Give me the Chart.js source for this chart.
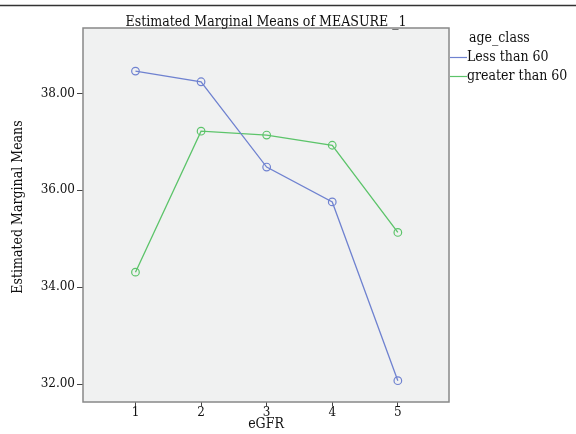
<!DOCTYPE html>
<html><head><meta charset="utf-8">
<script src="https://cdn.jsdelivr.net/npm/chart.js@4"></script>
<style>html,body{margin:0;padding:0;background:#fff}#wrap{width:576px;height:434px;position:relative}</style>
</head><body><div id="wrap"><canvas id="c"></canvas></div>
<script>
const categories = [1, 2, 3, 4, 5];
const seriesNames = ["Less than 60", "greater than 60"];
const lessThan60 = [38.46, 38.24, 36.48, 35.76, 32.07];
const greaterThan60 = [34.31, 37.22, 37.14, 36.93, 35.13];
const yTicks = [32, 34, 36, 38];
const xTicks = [1, 2, 3, 4, 5];
const titleText = "Estimated Marginal Means of MEASURE _1";
const yTitle = "Estimated Marginal Means";
const xTitle = "eGFR";
const legendTitle = "age_class";

const FONT = "'DejaVu Serif Condensed', 'Liberation Serif', serif";
const TFONT = "'DejaVu Serif', serif";
const colors = ["#6f82d0", "#5cc46a"];

const decor = {
  id: 'decor',
  beforeDraw(chart) {
    const {ctx, chartArea: a} = chart;
    ctx.save();
    ctx.fillStyle = '#f0f1f1';
    ctx.fillRect(a.left, a.top, a.right - a.left, a.bottom - a.top);
    ctx.restore();
  },
  afterDraw(chart) {
    const {ctx, chartArea: a} = chart;
    ctx.save();
    ctx.strokeStyle = '#333';
    ctx.lineWidth = 1.5;
    ctx.beginPath(); ctx.moveTo(0, 5.5); ctx.lineTo(576, 5.5); ctx.stroke();
    ctx.strokeStyle = '#888';
    ctx.lineWidth = 1.5;
    ctx.strokeRect(a.left, a.top, a.right - a.left, a.bottom - a.top);
    ctx.fillStyle = '#111';
    ctx.font = "14px " + FONT;
    ctx.textAlign = 'center'; ctx.textBaseline = 'alphabetic';
    ctx.fillText(titleText, (a.left + a.right) / 2, 26);
    ctx.fillText(xTitle, (a.left + a.right) / 2, 428);
    ctx.save();
    ctx.translate(22, (a.top + a.bottom) / 2 - 8);
    ctx.rotate(-Math.PI / 2);
    ctx.fillText(yTitle, 0, 0);
    ctx.restore();
    ctx.textAlign = 'left'; ctx.textBaseline = 'middle';
    ctx.fillText(legendTitle, 469, 38);
    chart.data.datasets.forEach((ds, i) => {
      const y = 57 + i * 19;
      ctx.strokeStyle = ds.borderColor;
      ctx.lineWidth = 1.2;
      ctx.beginPath(); ctx.moveTo(450, y + 0.5); ctx.lineTo(467, y + 0.5); ctx.stroke();
      ctx.fillText(ds.label, 467, y);
    });
    ctx.restore();
  }
};

new Chart(document.getElementById('c'), {
  type: 'line',
  data: {
    datasets: [
      { label: seriesNames[0], data: categories.map((x, i) => ({x, y: lessThan60[i]})), borderColor: colors[0], backgroundColor: 'rgba(0,0,0,0)', borderWidth: 1.3, pointRadius: 3.8, pointBorderWidth: 1.2, pointBackgroundColor: 'rgba(0,0,0,0)', pointBorderColor: colors[0], tension: 0 },
      { label: seriesNames[1], data: categories.map((x, i) => ({x, y: greaterThan60[i]})), borderColor: colors[1], backgroundColor: 'rgba(0,0,0,0)', borderWidth: 1.3, pointRadius: 3.8, pointBorderWidth: 1.2, pointBackgroundColor: 'rgba(0,0,0,0)', pointBorderColor: colors[1], tension: 0 }
    ]
  },
  options: {
    responsive: true, maintainAspectRatio: false, animation: false,
    layout: { padding: { left: 0, right: 127, top: 28, bottom: 0 } },
    plugins: { legend: { display: false }, tooltip: { enabled: false }, title: { display: false } },
    scales: {
      x: {
        type: 'linear', min: 0.2, max: 5.78,
        afterBuildTicks: s => { s.ticks = xTicks.map(v => ({value: v})); },
        afterFit: s => { s.height = 32; },
        grid: { drawOnChartArea: false, tickLength: 4, color: '#444', lineWidth: 1 },
        border: { display: false },
        ticks: { color: '#111', font: { family: TFONT, size: 12 }, padding: 0, maxRotation: 0, callback: v => String(v) }
      },
      y: {
        min: 31.63, max: 39.35,
        afterBuildTicks: s => { s.ticks = yTicks.map(v => ({value: v})); },
        afterFit: s => { s.width = 83; },
        grid: { drawOnChartArea: false, tickLength: 6, color: '#444', lineWidth: 1 },
        border: { display: false },
        ticks: { color: '#111', font: { family: TFONT, size: 12 }, padding: 2, callback: v => Number(v).toFixed(2) }
      }
    }
  },
  plugins: [decor]
});
</script></body></html>
